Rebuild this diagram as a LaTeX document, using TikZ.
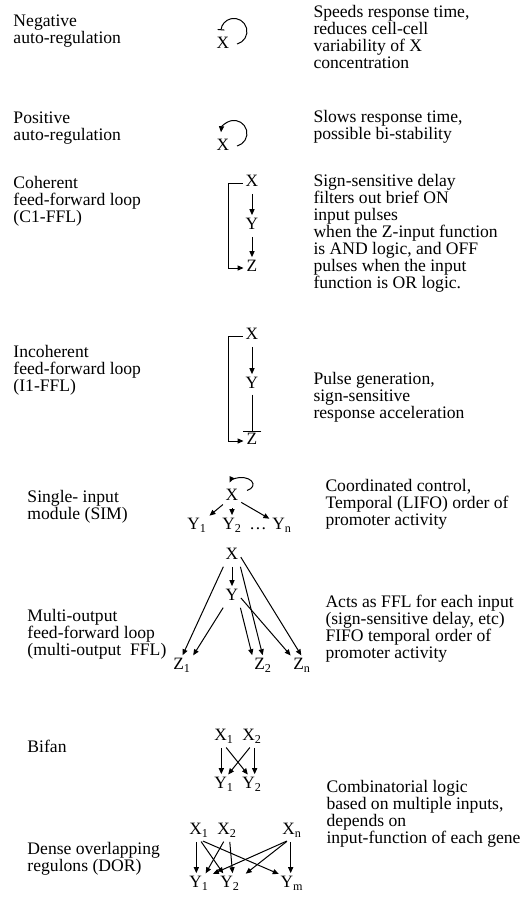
\documentclass[tikz,border=0pt]{standalone}
\usepackage{fontspec}
\setmainfont{Liberation Serif}
\usetikzlibrary{arrows.meta}

\tikzset{every picture/.style={line width=0.75pt}}
\tikzset{
  txt/.style={anchor=north west, inner sep=0pt, align=left, font=\fontsize{13.2}{12.75}\selectfont},
  gene/.style={inner sep=1pt, text height=8.5pt, text depth=3pt, font=\fontsize{13}{14}\selectfont},
  act/.style={-{Triangle[length=4.5pt,width=3.8pt]}, shorten >=1pt, shorten <=1pt},
  rep/.style={-{Bar[width=14pt]}},
}

\begin{document}
\begin{tikzpicture}[x=0.75pt,y=0.75pt,yscale=-1,xscale=1]
\path[use as bounding box] (0,0) rectangle (531,908);

% Text Node
\node[txt] (negl) at (13,14) {Negative\\auto-regulation};
\node[txt] (negr) at (313,5) {Speeds response time,\\reduces cell-cell\\variability of X\\concentration};
\node[gene] (nx) at (223,45) {X};
% Curve Lines
\draw[-{Bar[width=5pt]}] (nx.east) ++(6,-1) arc[start angle=76, end angle=-175, radius=13];

% Text Node
\node[txt] (posl) at (13,111) {Positive\\auto-regulation};
\node[txt] (posr) at (313,110) {Slows response time,\\possible bi-stability};
\node[gene] (px) at (223,147) {X};
% Curve Lines
\draw[-{Triangle[length=4.5pt,width=3.8pt]}] (px.east) ++(6,-1) arc[start angle=76, end angle=-175, radius=13];

% Text Node
\node[txt] (cohl) at (13,176) {Coherent\\feed-forward loop\\(C1-FFL)};
\node[txt] (cohr) at (313,174) {Sign-sensitive delay\\filters out brief ON\\input pulses\\when the Z-input function\\is AND logic, and OFF\\pulses when the input\\function is OR logic.};
\node[gene] (cx) at (252,183) {X};
\node[gene] (cy) at (252,226) {Y};
\node[gene] (cz) at (252,268) {Z};
% Straight Lines
\draw[act] (cx) -- (cy);
\draw[act] (cy) -- (cz);
\draw[act] (cx.west) -- ++(-15,0) |- (cz.west);

% Text Node
\node[txt] (incl) at (13,345) {Incoherent\\feed-forward loop\\(I1-FFL)};
\node[txt] (incr) at (313,372) {Pulse generation,\\sign-sensitive\\response acceleration};
\node[gene] (ix) at (252,336) {X};
\node[gene] (iy) at (252,385) {Y};
\node[gene] (iz) at (252,441) {Z};
% Straight Lines
\draw[act] (ix) -- (iy);
\draw[rep] (iy) -- (iz.north);
\draw[act] (ix.west) -- ++(-15,0) |- (iz.west);

% Text Node
\node[txt] (siml) at (27,490) {Single- input\\module (SIM)};
\node[txt] (simr) at (325,479) {Coordinated control,\\Temporal (LIFO) order of\\promoter activity};
\node[gene] (sx) at (232,497) {X};
\node[gene] (sy1) at (197,526) {Y\textsubscript{1}};
\node[gene] (sy2) at (232,526) {Y\textsubscript{2}};
\node[gene] (sdots) at (258,526) {\dots};
\node[gene] (syn) at (282,526) {Y\textsubscript{n}};
% Straight Lines
\draw[act] (sx) -- (sy1);
\draw[act] (sx) -- (sy2);
\draw[act] (sx) -- (syn);
% Curve Lines
\draw[-{Triangle[length=4.5pt,width=3.8pt]}] (sx.north east) ++(7,3) arc[start angle=60, end angle=-165, x radius=12, y radius=7];

% Text Node
\node[txt] (mull) at (27,609) {Multi-output\\feed-forward loop\\(multi-output\ \ FFL)};
\node[txt] (mulr) at (325,595) {Acts as FFL for each input\\(sign-sensitive delay, etc)\\FIFO temporal order of\\promoter activity};
\node[gene] (mx) at (232,556) {X};
\node[gene] (my) at (232,597) {Y};
\node[gene] (mz1) at (182,666) {Z\textsubscript{1}};
\node[gene] (mz2) at (263,666) {Z\textsubscript{2}};
\node[gene] (mzn) at (302,666) {Z\textsubscript{n}};
% Straight Lines
\draw[act] (mx) -- (my);
\draw[act] (mx.south west) -- (mz1.north);
\draw[act] (mx.south east) -- (mz2.north);
\draw[act] (mx.east) -- (mzn.north);
\draw[act] (my.south west) -- (mz1.north east);
\draw[act] (my.south east) -- (mz2.north west);
\draw[act] (my.east) -- (mzn.north west);

% Text Node
\node[txt] (bifl) at (27,740) {Bifan};
\node[gene] (bx1) at (224,737) {X\textsubscript{1}};
\node[gene] (bx2) at (252,737) {X\textsubscript{2}};
\node[gene] (by1) at (224,785) {Y\textsubscript{1}};
\node[gene] (by2) at (252,785) {Y\textsubscript{2}};
% Straight Lines
\draw[act] ([xshift=-2pt]bx1.south) -- ([xshift=-2pt]by1.north);
\draw[act] ([xshift=2pt]bx2.south) -- ([xshift=2pt]by2.north);
\draw[act] ([xshift=1pt]bx1.south) -- ([xshift=-2.5pt]by2.north);
\draw[act] ([xshift=-1pt]bx2.south) -- ([xshift=2.5pt]by1.north);

% Text Node
\node[txt] (dorr) at (326,780) {Combinatorial logic\\based on multiple inputs,\\depends on\\input-function of each gene};
\node[txt] (dorl) at (27,842) {Dense overlapping\\regulons (DOR)};
\node[gene] (dx1) at (199,831) {X\textsubscript{1}};
\node[gene] (dx2) at (227,831) {X\textsubscript{2}};
\node[gene] (dxn) at (292,831) {X\textsubscript{n}};
\node[gene] (dy1) at (199,884) {Y\textsubscript{1}};
\node[gene] (dy2) at (230,884) {Y\textsubscript{2}};
\node[gene] (dym) at (292,884) {Y\textsubscript{m}};
% Straight Lines
\draw[act] ([xshift=-2pt]dx1.south) -- ([xshift=-2pt]dy1.north);
\draw[act] ([xshift=1pt]dx1.south) -- ([xshift=-4.5pt]dy2.north);
\draw[act] ([xshift=2pt]dx1.south) -- ([xshift=-9pt]dym.north);
\draw[act] ([xshift=-2pt]dx2.south) -- ([xshift=4.5pt]dy1.north);
\draw[act] ([xshift=2pt]dx2.south) -- ([xshift=2pt]dy2.north);
\draw[act] ([xshift=-3pt]dxn.south) -- ([xshift=9.5pt]dy1.north);
\draw[act] ([xshift=-3pt]dxn.south) -- ([xshift=11pt]dy2.north);
\draw[act] ([xshift=-1pt]dxn.south) -- ([xshift=-1pt]dym.north);

\end{tikzpicture}
\end{document}
